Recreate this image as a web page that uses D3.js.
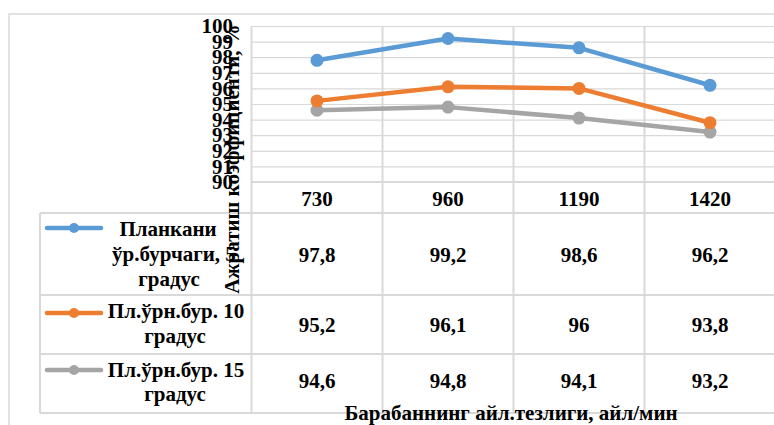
<!DOCTYPE html>
<html>
<head>
<meta charset="utf-8">
<script src="https://cdn.jsdelivr.net/npm/d3@7/dist/d3.min.js"></script>
<style>
html,body{margin:0;padding:0;background:#fff;}
</style>
</head>
<body>
<svg id="chart" width="774" height="425"></svg>
<script>
const categories = ["730", "960", "1190", "1420"];
const seriesNames = [
  ["Планкани", "ўр.бурчаги, 5", "градус"],
  ["Пл.ўрн.бур. 10", "градус"],
  ["Пл.ўрн.бур. 15", "градус"]
];
const series1 = [97.8, 99.2, 98.6, 96.2];
const series2 = [95.2, 96.1, 96, 93.8];
const series3 = [94.6, 94.8, 94.1, 93.2];
const seriesColors = ["#5B9BD5", "#ED7D31", "#A5A5A5"];
const yTicks = [90, 91, 92, 93, 94, 95, 96, 97, 98, 99, 100];
const yTitle = "Ажратиш коэффициенти, %";
const xTitle = "Барабаннинг айл.тезлиги, айл/мин";

const FONT = "'Liberation Serif', 'Times New Roman', 'DejaVu Serif', serif";
const FS = "21px";
const allSeries = [series1, series2, series3];
const svg = d3.select("#chart");
const grid = "#D9D9D9";

const plotL = 251.5, plotR = 775.5, plotT = 26, plotB = 182;
const x = d3.scaleBand().domain(categories).range([plotL, plotR]);
const y = d3.scaleLinear().domain([90, 100]).range([plotB, plotT]);

function txt(sel) {
  return sel.attr("font-family", FONT).attr("font-weight", "bold").attr("font-size", FS).attr("fill", "#000");
}

// outer chart border
svg.append("path").attr("d", "M9,425 L9,14 L774,14")
  .attr("fill", "none").attr("stroke", grid).attr("stroke-width", 1.5);

// horizontal gridlines
const gy = svg.append("g").attr("transform", `translate(${plotL},0)`)
  .call(d3.axisLeft(y).tickValues(yTicks).tickSize(-(plotR - plotL)).tickFormat(""));
gy.select(".domain").remove();
gy.selectAll("line").attr("stroke", grid).attr("stroke-width", 1.2);

// table rows geometry
const rowEdges = [182, 213, 295, 354, 413];
const tableL = 40;

// vertical gridlines (band boundaries), extended through table
const bounds = categories.map(c => x(c)).concat([plotR]);
svg.append("g").selectAll("line").data(bounds).join("line")
  .attr("x1", d => d).attr("x2", d => d)
  .attr("y1", plotT).attr("y2", rowEdges[4])
  .attr("stroke", grid).attr("stroke-width", 2);

// table horizontal lines
svg.append("g").selectAll("line").data(rowEdges).join("line")
  .attr("x1", (d, i) => i < 1 ? plotL : tableL).attr("x2", plotR)
  .attr("y1", d => d).attr("y2", d => d)
  .attr("stroke", grid).attr("stroke-width", 2);
svg.append("line").attr("x1", tableL).attr("x2", tableL)
  .attr("y1", rowEdges[1]).attr("y2", rowEdges[4])
  .attr("stroke", grid).attr("stroke-width", 2);

// y tick labels
const ay = svg.append("g").attr("transform", `translate(233,0)`)
  .call(d3.axisLeft(y).tickValues(yTicks).tickSize(0).tickPadding(0).tickFormat(d3.format("d")));
ay.attr("font-family", null).attr("font-size", null);
ay.select(".domain").remove();
txt(ay.selectAll("text"));

// y title
txt(svg.append("text")
  .attr("transform", `translate(239,159) rotate(-90)`)
  .attr("text-anchor", "middle"))
  .text(yTitle);

// category header
txt(svg.append("g").selectAll("text").data(categories).join("text")
  .attr("x", d => x(d) + x.bandwidth() / 2)
  .attr("y", 206)
  .attr("text-anchor", "middle"))
  .text(d => d);

// lines and markers
const line = d3.line().x((d, i) => x(categories[i]) + x.bandwidth() / 2).y(d => y(d));
allSeries.slice().reverse().forEach((s, ri) => {
  const k = allSeries.length - 1 - ri;
  svg.append("path").datum(s).attr("d", line)
    .attr("fill", "none").attr("stroke", seriesColors[k]).attr("stroke-width", 4.5)
    .attr("stroke-linejoin", "round");
  svg.append("g").selectAll("circle").data(s).join("circle")
    .attr("cx", (d, i) => x(categories[i]) + x.bandwidth() / 2)
    .attr("cy", d => y(d)).attr("r", 6.5)
    .attr("fill", seriesColors[k]);
});

// table rows: legend keys, names, values
const fmt = v => String(v).replace(".", ",");
const nameBase = [[236, 261, 286], [318, 343], [377, 401]];
const nameX = [[168, 174, 169], [176, 175], [176, 175]];
const keyY = [228, 313, 370];
const valBase = [262, 332, 388];
allSeries.forEach((s, k) => {
  svg.append("line").attr("x1", 47).attr("x2", 101)
    .attr("y1", keyY[k]).attr("y2", keyY[k])
    .attr("stroke", seriesColors[k]).attr("stroke-width", 4.5).attr("stroke-linecap", "round");
  svg.append("circle").attr("cx", 74).attr("cy", keyY[k]).attr("r", 5)
    .attr("fill", seriesColors[k]);
  txt(svg.append("g").selectAll("text").data(seriesNames[k]).join("text")
    .attr("x", (d, i) => nameX[k][i]).attr("y", (d, i) => nameBase[k][i])
    .attr("text-anchor", "middle"))
    .text(d => d);
  txt(svg.append("g").selectAll("text").data(s).join("text")
    .attr("x", (d, i) => x(categories[i]) + x.bandwidth() / 2)
    .attr("y", valBase[k])
    .attr("text-anchor", "middle"))
    .text(d => fmt(d));
});

// x title
txt(svg.append("text").attr("x", 511).attr("y", 420)
  .attr("text-anchor", "middle"))
  .text(xTitle);
</script>
</body>
</html>
